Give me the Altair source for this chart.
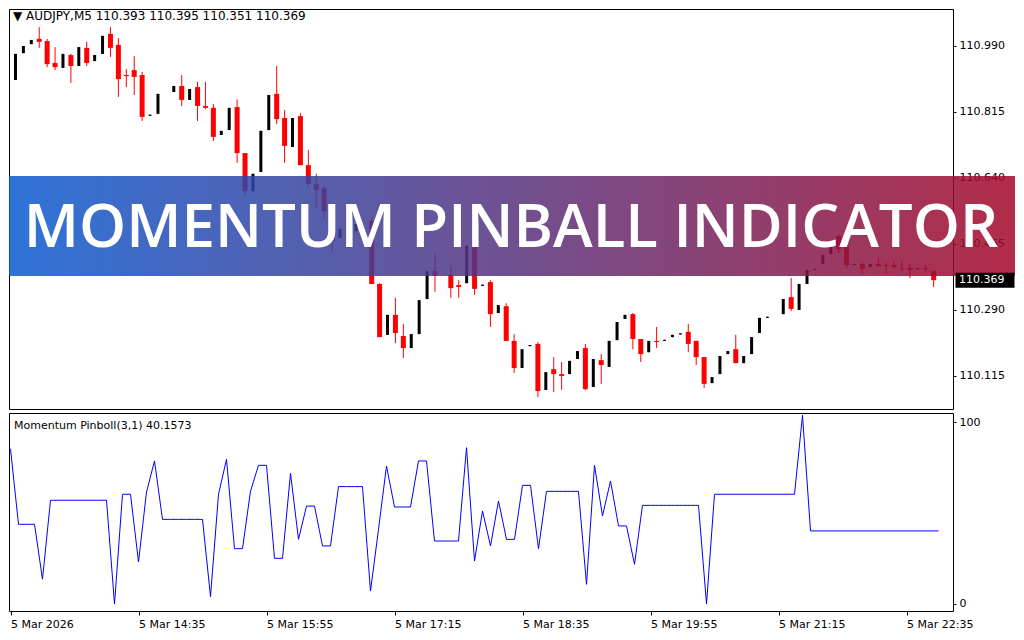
import altair as alt
import pandas as pd

# ---------------- data ----------------
symbol_title = "AUDJPY,M5"
indicator_name = "Momentum Pinboll(3,1)"
indicator_last = "40.1573"
banner_title = "MOMENTUM PINBALL INDICATOR"

# OHLC per 5-minute bar (None = bar not visible in the picture)
opens = [110.900, 110.971, 110.995, 111.009, 111.003, 110.945, 110.932, 110.966, 110.937, 110.985,
         110.950, 110.969, 111.022, 110.993, 110.913, 110.926, 110.913, 110.805, 110.810, None,
         110.868, 110.884, 110.847, 110.881, 110.831, 110.826, 110.754, 110.767, 110.828, 110.706,
         110.605, 110.656, 110.767, 110.863, 110.799, 110.722, 110.804, 110.674, 110.624, 110.613,
         110.507, 110.481, 110.483, 110.499, None, 110.526, 110.359, 110.224, 110.277, 110.221,
         110.189, 110.226, 110.319, 110.393, None, 110.383, 110.356, 110.361, 110.465, 110.354,
         110.364, 110.282, 110.300, 110.208, 110.136, 110.194, 110.200, 110.078, 110.133, 110.120,
         110.120, 110.160, 110.189, 110.086, 110.157, 110.139, 110.210, 110.266, 110.279, 110.213,
         110.178, 110.208, 110.208, 110.218, 110.225, 110.232, 110.208, 110.165, 110.096, 110.120,
         110.173, 110.186, 110.149, 110.173, 110.229, 110.269, None, 110.279, 110.324, 110.290,
         110.359, 110.396, 110.412, 110.438, 110.486, 110.457, 110.409, 110.412, 110.404, 110.412,
         110.409, 110.409, 110.401, 110.401, 110.398, 110.401, 110.393]
highs = [110.969, 110.990, 111.006, 111.040, 111.009, 110.987, 110.969, 110.969, 110.987, 111.001,
         110.966, 111.017, 111.040, 111.011, 110.929, 110.963, 110.921, 110.808, 110.863, None,
         110.884, 110.913, 110.876, 110.895, 110.895, 110.836, 110.765, 110.826, 110.849, 110.706,
         110.651, 110.765, 110.860, 110.937, 110.820, 110.799, 110.812, 110.714, 110.651, 110.619,
         110.526, 110.505, 110.526, 110.518, None, 110.535, 110.361, 110.277, 110.322, 110.253,
         110.226, 110.316, 110.393, 110.438, None, 110.407, 110.369, 110.460, 110.465, 110.357,
         110.369, 110.303, 110.308, 110.226, 110.186, 110.197, 110.205, 110.125, 110.165, 110.152,
         110.155, 110.181, 110.200, 110.160, 110.173, 110.208, 110.258, 110.277, 110.282, 110.213,
         110.208, 110.245, 110.211, 110.224, 110.228, 110.253, 110.208, 110.165, 110.112, 110.168,
         110.181, 110.224, 110.168, 110.218, 110.269, 110.272, None, 110.319, 110.375, 110.359,
         110.396, 110.399, 110.436, 110.468, 110.491, 110.457, 110.412, 110.415, 110.412, 110.428,
         110.415, 110.420, 110.420, 110.412, 110.401, 110.409, 110.395]
lows = [110.900, 110.971, 110.995, 110.985, 110.934, 110.926, 110.932, 110.892, 110.937, 110.937,
        110.950, 110.969, 110.961, 110.855, 110.881, 110.860, 110.791, 110.805, 110.810, None,
        110.868, 110.831, 110.847, 110.791, 110.823, 110.738, 110.754, 110.767, 110.680, 110.592,
        110.605, 110.656, 110.767, 110.783, 110.680, 110.722, 110.674, 110.616, 110.558, 110.531,
        110.446, 110.481, 110.454, 110.499, None, 110.359, 110.218, 110.224, 110.202, 110.163,
        110.189, 110.226, 110.319, 110.338, None, 110.322, 110.322, 110.361, 110.330, 110.354,
        110.245, 110.282, 110.208, 110.123, 110.136, 110.194, 110.059, 110.078, 110.072, 110.078,
        110.120, 110.160, 110.078, 110.086, 110.094, 110.139, 110.210, 110.266, 110.186, 110.152,
        110.178, 110.189, 110.208, 110.218, 110.225, 110.178, 110.144, 110.083, 110.096, 110.120,
        110.173, 110.149, 110.149, 110.173, 110.229, 110.269, None, 110.279, 110.287, 110.290,
        110.359, 110.396, 110.412, 110.438, 110.441, 110.401, 110.409, 110.385, 110.404, 110.404,
        110.385, 110.399, 110.393, 110.375, 110.398, 110.391, 110.351]
closes = [110.969, 110.990, 111.006, 111.001, 110.942, 110.934, 110.969, 110.937, 110.987, 110.945,
          110.966, 111.017, 110.985, 110.902, 110.910, 110.908, 110.802, 110.808, 110.863, None,
          110.884, 110.847, 110.876, 110.831, 110.826, 110.749, 110.765, 110.826, 110.706, 110.605,
          110.651, 110.765, 110.860, 110.796, 110.725, 110.799, 110.674, 110.624, 110.608, 110.552,
          110.473, 110.505, 110.478, 110.518, None, 110.359, 110.218, 110.277, 110.229, 110.189,
          110.226, 110.316, 110.393, 110.380, None, 110.348, 110.351, 110.460, 110.346, 110.357,
          110.279, 110.303, 110.208, 110.136, 110.186, 110.197, 110.075, 110.125, 110.120, 110.115,
          110.155, 110.181, 110.080, 110.160, 110.144, 110.208, 110.258, 110.277, 110.213, 110.173,
          110.208, 110.205, 110.211, 110.224, 110.228, 110.200, 110.165, 110.094, 110.112, 110.168,
          110.181, 110.149, 110.168, 110.218, 110.269, 110.272, None, 110.319, 110.293, 110.359,
          110.396, 110.399, 110.436, 110.468, 110.452, 110.409, 110.412, 110.399, 110.412, 110.407,
          110.407, 110.404, 110.399, 110.396, 110.401, 110.398, 110.369]

momentum = [85.3, 43.8, 43.8, 43.8, 13.6, 57.0, 57.0, 57.0, 57.0, 57.0,
            57.0, 57.0, 57.0, 0.0, 60.3, 60.3, 23.1, 61.5, 78.6, 46.5,
            46.5, 46.5, 46.5, 46.5, 46.5, 4.0, 60.3, 79.5, 30.4, 30.4,
            62.0, 76.2, 76.2, 25.1, 25.1, 71.8, 35.5, 53.8, 53.8, 31.9,
            31.9, 64.5, 64.5, 64.5, 64.5, 7.1, 41.0, 75.8, 53.3, 53.3,
            53.3, 78.6, 78.6, 34.6, 34.6, 34.6, 34.6, 85.9, 23.6, 51.1,
            31.9, 56.6, 35.5, 35.5, 65.2, 65.2, 30.4, 61.9, 61.9, 61.9,
            61.9, 61.9, 10.8, 76.2, 48.4, 67.6, 42.9, 42.9, 21.8, 54.2,
            54.2, 54.2, 54.2, 54.2, 54.2, 54.2, 54.2, 0.0, 60.3, 60.3,
            60.3, 60.3, 60.3, 60.3, 60.3, 60.3, 60.3, 60.3, 60.3, 103.7,
            40.16, 40.16, 40.16, 40.16, 40.16, 40.16, 40.16, 40.16, 40.16, 40.16,
            40.16, 40.16, 40.16, 40.16, 40.16, 40.16, 40.16]

time_tick_bars = [0, 16, 32, 48, 64, 80, 96, 112]
time_tick_labels = ["5 Mar 2026", "5 Mar 14:35", "5 Mar 15:55", "5 Mar 17:15",
                    "5 Mar 18:35", "5 Mar 19:55", "5 Mar 21:15", "5 Mar 22:35"]
price_ticks = [110.115, 110.290, 110.465, 110.640, 110.815, 110.990]
momentum_ticks = [0, 100]

# ---------------- tables ----------------
rows = []
for i, (o, h, l, c) in enumerate(zip(opens, highs, lows, closes)):
    if o is None:
        continue
    rows.append({"bar": i, "open": o, "high": h, "low": l, "close": c,
                 "dir": "down" if c < o else "up"})
candles = pd.DataFrame(rows)
mom_df = pd.DataFrame({"bar": list(range(len(momentum))), "m": momentum})

last = rows[-1]
header = "\u25BC " + symbol_title + " " + " ".join(
    f"{v:.3f}" for v in (last["open"], last["high"], last["low"], last["close"]))

FONT = "DejaVu Sans"
W = 944
x_scale = alt.Scale(domain=[-0.1875, 117.8125], nice=False, zero=False)
y_price = alt.Scale(domain=[110.0274, 111.0881], nice=False, zero=False)
y_mom = alt.Scale(domain=[-3.85, 104.95], nice=False, zero=False)

price_axis = alt.Axis(orient="right", values=price_ticks, format=".3f", title=None,
                      grid=False, domain=False, tickSize=3, tickColor="#000000",
                      labelPadding=3, labelFont=FONT, labelFontSize=11,
                      labelColor="#000000")

label_expr = ""
for b, t in zip(time_tick_bars, time_tick_labels):
    label_expr += f"datum.value == {b} ? '{t}' : "
label_expr += "''"

X_top = alt.X("bar:Q", scale=x_scale, axis=None)

base = alt.Chart(candles)
wicks = base.mark_rule(strokeWidth=1).encode(
    x=X_top,
    y=alt.Y("low:Q", scale=y_price, axis=price_axis),
    y2="high:Q",
    color=alt.Color("dir:N", scale=alt.Scale(domain=["up", "down"],
                                             range=["#000000", "#ff0000"]), legend=None),
)
bear = base.transform_filter("datum.dir == 'down'").mark_bar(size=5, color="#ff0000").encode(
    x=X_top, y=alt.Y("open:Q", scale=y_price, axis=price_axis), y2="close:Q")
bull = base.transform_filter("datum.dir == 'up'").mark_bar(size=3, color="#000000").encode(
    x=X_top, y=alt.Y("open:Q", scale=y_price, axis=price_axis), y2="close:Q")

one = pd.DataFrame({"t": [header]})
head_text = alt.Chart(one).mark_text(align="left", baseline="middle", font=FONT,
                                     fontSize=12, color="#000000").encode(
    x=alt.value(4), y=alt.value(7), text="t:N")

banner_df = pd.DataFrame({"t": [banner_title]})
banner = alt.Chart(banner_df).mark_rect(
    color=alt.LinearGradient(gradient="linear",
                             stops=[alt.GradientStop(color="#095bd1", offset=0),
                                    alt.GradientStop(color="#a50728", offset=1)],
                             x1=0, x2=1, y1=0, y2=0),
    opacity=0.85).encode(x=alt.value(0), x2=alt.value(1006), y=alt.value(167), y2=alt.value(267))
banner_text = alt.Chart(banner_df).mark_text(
    font="Open Sans", fontWeight=600, fontSize=60, color="#ffffff",
    align="center", baseline="alphabetic").encode(
    x=alt.value(502), y=alt.value(238), text="t:N")

price_df = pd.DataFrame({"p": [last["close"]], "t": [f"{last['close']:.3f}"]})
price_box = alt.Chart(price_df).mark_point(
    shape="M-1,-0.254H1V0.254H-1Z", size=59 * 59, filled=True, color="#000000",
    opacity=1, strokeWidth=0).encode(
    x=alt.value(976), y=alt.Y("p:Q", scale=y_price, axis=price_axis))
price_text = alt.Chart(price_df).mark_text(
    align="left", baseline="middle", font=FONT, fontSize=11, color="#ffffff").encode(
    x=alt.value(950), y=alt.Y("p:Q", scale=y_price, axis=price_axis), text="t:N")

top = alt.layer(wicks, bear, bull, head_text, banner, banner_text, price_box, price_text
                ).properties(width=W, height=400)

ind_line = alt.Chart(mom_df).mark_line(color="#0000ff", strokeWidth=1).encode(
    x=alt.X("bar:Q", scale=x_scale,
            axis=alt.Axis(values=time_tick_bars, labelExpr=label_expr, title=None, grid=False,
                          domain=False, tickSize=4, tickColor="#000000", labelAlign="left",
                          labelPadding=3, labelFont=FONT, labelFontSize=11,
                          labelColor="#000000", labelOverlap=False)),
    y=alt.Y("m:Q", scale=y_mom,
            axis=alt.Axis(orient="right", values=momentum_ticks, title=None, grid=False,
                          domain=False, tickSize=3, tickColor="#000000", labelPadding=3,
                          labelFont=FONT, labelFontSize=11, labelColor="#000000")),
)
ind_df = pd.DataFrame({"t": [indicator_name + " " + indicator_last]})
ind_text = alt.Chart(ind_df).mark_text(align="left", baseline="middle", font=FONT,
                                       fontSize=11, color="#000000").encode(
    x=alt.value(5), y=alt.value(13), text="t:N")

bottom = alt.layer(ind_line, ind_text).properties(width=W, height=198)

chart = alt.vconcat(top, bottom, spacing=2).properties(
    padding=0, background="#ffffff"
).configure_view(stroke="#000000", strokeWidth=1)

chart.save("out.html", embed_options={"renderer": "svg", "actions": False})
